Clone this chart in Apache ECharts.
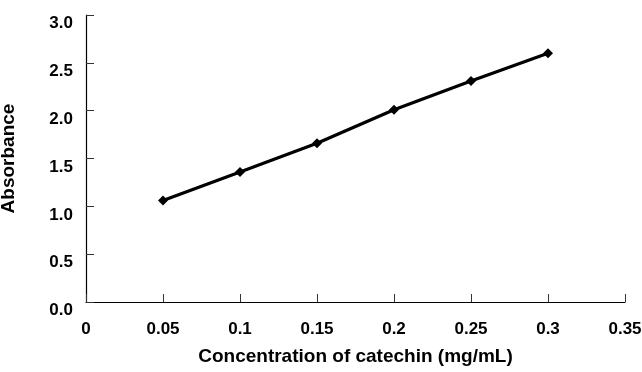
<!DOCTYPE html>
<html>
<head>
<meta charset="utf-8">
<script src="https://cdn.jsdelivr.net/npm/echarts@6/dist/echarts.min.js"></script>
<style>html,body{margin:0;padding:0;background:#fff;}#c{width:642px;height:372px;}</style>
</head>
<body>
<div id="c"></div>
<script>
const concentration = [0.05, 0.1, 0.15, 0.2, 0.25, 0.3];
const absorbance = [1.06, 1.36, 1.66, 2.01, 2.31, 2.60];
const xTitle = 'Concentration of catechin (mg/mL)';
const yTitle = 'Absorbance';

const chart = echarts.init(document.getElementById('c'), null, {renderer: 'canvas'});
const font = 'Liberation Sans, Arial, sans-serif';
chart.setOption({
  animation: false,
  backgroundColor: '#fff',
  grid: {left: 86, right: 17, top: 15, bottom: 70, containLabel: false, outerBoundsMode: 'none'},
  xAxis: {
    type: 'value', min: 0, max: 0.35, interval: 0.05,
    name: xTitle, nameLocation: 'middle', nameGap: 45,
    nameTextStyle: {fontFamily: font, fontWeight: 'bold', fontSize: 19, color: '#000'},
    axisLine: {lineStyle: {color: '#000', width: 1.2}},
    axisTick: {inside: true, length: 8, lineStyle: {color: '#333', width: 1}},
    axisLabel: {margin: 19, fontFamily: font, fontWeight: 'bold', fontSize: 17, color: '#000',
      formatter: v => String(+v.toFixed(2))},
    splitLine: {show: false}
  },
  yAxis: {
    type: 'value', min: 0, max: 3, interval: 0.5,
    name: yTitle, nameLocation: 'middle', nameGap: 68, nameRotate: 90,
    nameTextStyle: {fontFamily: font, fontWeight: 'bold', fontSize: 19, color: '#000'},
    axisLine: {show: true, lineStyle: {color: '#000', width: 1.2}},
    axisTick: {show: true, inside: true, length: 8, lineStyle: {color: '#333', width: 1}},
    axisLabel: {margin: 13, fontFamily: font, fontWeight: 'bold', fontSize: 17, color: '#000',
      verticalAlign: 'top',
      formatter: v => v.toFixed(1)},
    splitLine: {show: false}
  },
  series: [{
    type: 'line',
    data: concentration.map((x, i) => [x, absorbance[i]]),
    symbol: 'diamond', symbolSize: 10,
    itemStyle: {color: '#000'},
    lineStyle: {color: '#000', width: 3.2}
  }]
});
</script>
</body>
</html>
